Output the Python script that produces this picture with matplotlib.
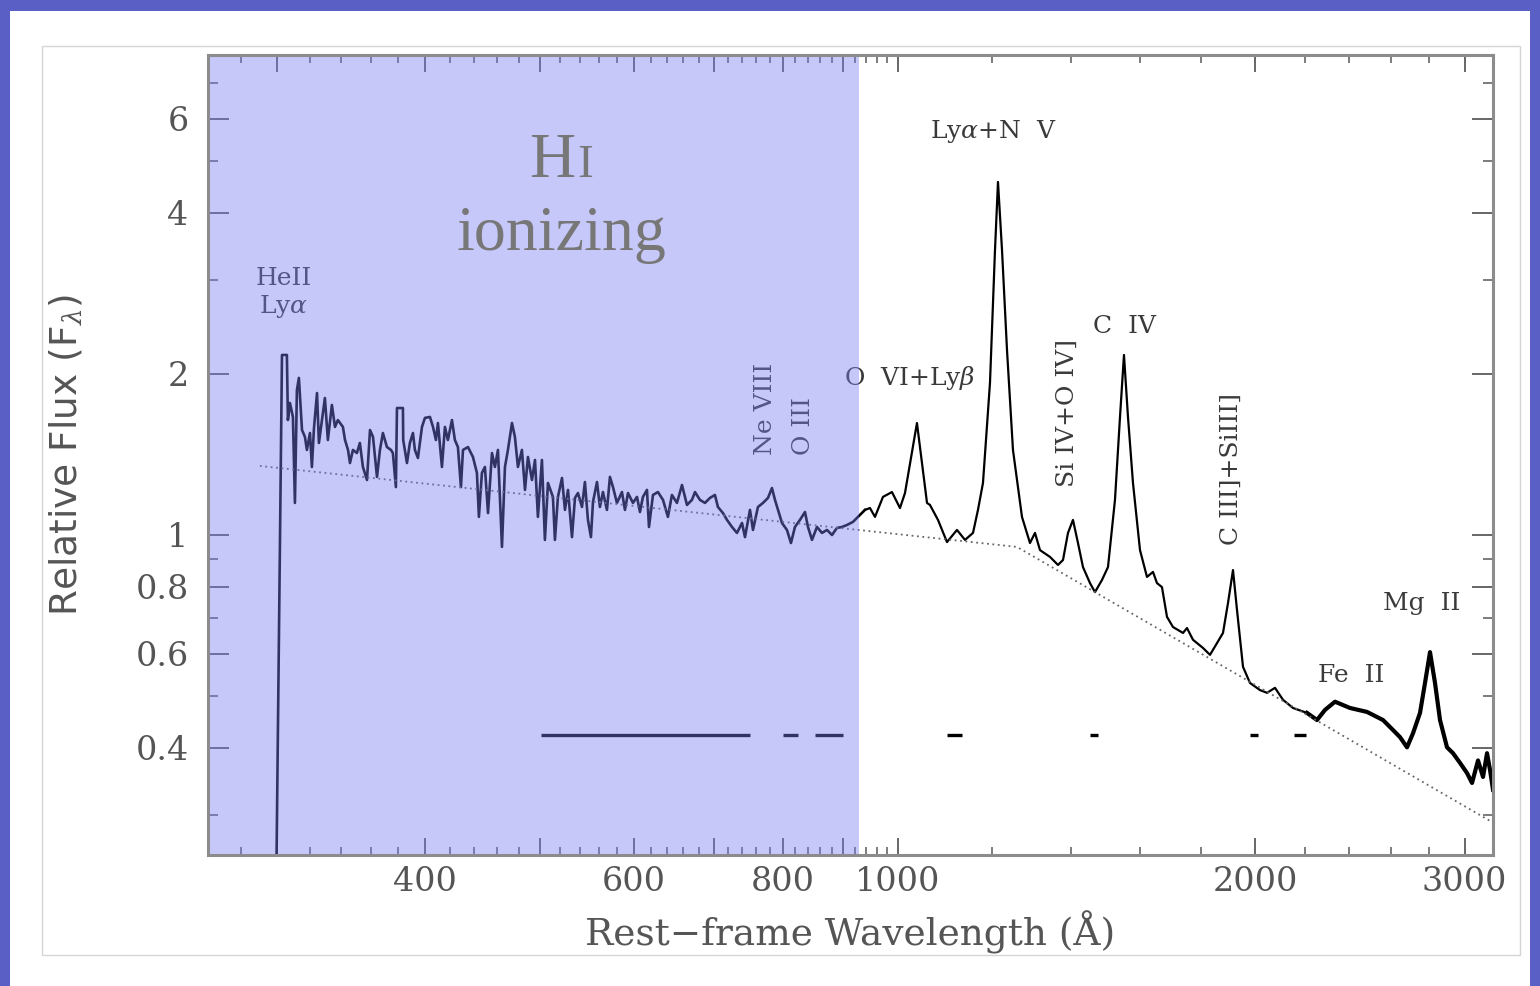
import matplotlib
matplotlib.use("Agg")
import matplotlib.pyplot as plt
from matplotlib.patches import Rectangle
from matplotlib.ticker import FixedLocator, FixedFormatter, NullFormatter

plt.rcParams['mathtext.fontset'] = 'dejavuserif'

# ---------------- data ----------------
# rest-frame wavelength (Angstrom) and relative flux, in segments
wave_heii = [299.7, 302.6, 303.2, 306.1, 306.7, 307.9, 309.7, 310.9, 312.1, 313.3,
             315.2, 317.0, 318.2, 320.1, 321.3, 322.6, 324.5, 325.7, 327.6, 329.5,
             331.4, 334.0, 336.0, 337.9, 341.2, 342.6, 344.6, 345.9, 347.9, 350.6,
             352.6, 354.7, 357.5, 359.6, 361.7, 364.5, 366.6, 368.7, 371.6, 374.5,
             375.9, 378.1, 378.9, 383.3, 383.5, 386.3, 388.5, 390.8, 392.3, 394.6,
             397.7, 400.0]
flux_heii = [0.20, 1.460, 2.170, 2.170, 1.640, 1.765, 1.662, 1.148, 1.866, 1.966,
             1.571, 1.525, 1.442, 1.551, 1.340, 1.585, 1.842, 1.486, 1.640, 1.803,
             1.505, 1.750, 1.592, 1.640, 1.592, 1.505, 1.442, 1.363, 1.442, 1.423,
             1.486, 1.340, 1.267, 1.571, 1.525, 1.284, 1.442, 1.551, 1.460, 1.442,
             1.423, 1.229, 1.727, 1.727, 1.505, 1.363, 1.486, 1.551, 1.442, 1.393,
             1.592, 1.655]

wave_euv1 = [403.9, 406.3, 408.6, 410.2, 413.4, 415.8, 418.2, 421.5, 423.9, 426.4,
             428.9, 430.6, 434.8, 439.0, 442.4, 444.1, 446.7, 449.3, 452.0, 455.5,
             458.1, 460.8, 464.4, 467.1, 469.8, 473.5, 476.2, 479.0, 482.7, 485.6,
             488.4, 492.2, 495.1, 497.9, 501.8, 504.7, 507.7, 512.6, 514.6, 517.6,
             521.7, 524.7, 527.8, 531.9, 535.0, 538.1, 542.3, 545.4, 548.6, 551.8,
             554.0, 558.3, 561.5, 564.8, 569.2, 572.5, 575.9, 580.3, 586.0, 589.4,
             592.9, 598.6]
flux_euv1 = [1.662, 1.592, 1.505, 1.619, 1.340, 1.592, 1.505, 1.640, 1.505, 1.460,
             1.229, 1.442, 1.460, 1.399, 1.306, 1.081, 1.306, 1.340, 1.099, 1.423,
             1.340, 1.442, 0.950, 1.340, 1.442, 1.619, 1.525, 1.340, 1.442, 1.214,
             1.399, 1.267, 1.381, 1.081, 1.381, 0.979, 1.251, 1.178, 0.979, 1.178,
             1.278, 1.114, 1.214, 0.991, 1.173, 1.198, 1.128, 1.256, 1.067, 0.991,
             1.153, 1.256, 1.128, 1.203, 1.114, 1.284, 1.229, 1.148, 1.203, 1.114,
             1.198, 1.148]

wave_euv2 = [603.3, 606.8, 610.3, 615.1, 617.5, 622.3, 628.3, 634.5, 640.6, 645.6,
             651.9, 658.3, 664.7, 671.1, 675.1, 681.6, 688.3, 695.0, 701.7, 705.8,
             712.7, 718.3, 725.3, 732.3, 739.5, 743.8, 751.0, 755.4, 762.7, 770.2,
             777.7, 783.7, 788.3, 792.9, 799.1, 806.8, 813.1, 819.4, 827.4, 835.5,
             840.4, 846.9, 855.1, 863.5, 871.9, 880.4, 888.9, 897.6, 906.3, 916.9,
             925.9, 938.5]
flux_euv2 = [1.178, 1.104, 1.178, 1.214, 1.035, 1.188, 1.203, 1.163, 1.081, 1.188,
             1.148, 1.240, 1.138, 1.163, 1.203, 1.163, 1.148, 1.173, 1.188, 1.128,
             1.099, 1.067, 1.035, 1.009, 1.053, 0.991, 1.114, 1.022, 1.128, 1.148,
             1.173, 1.224, 1.163, 1.114, 1.053, 1.022, 0.966, 1.035, 1.067, 1.104,
             1.035, 0.979, 1.035, 1.009, 1.022, 1.000, 1.031, 1.035, 1.044, 1.058,
             1.081, 1.114]

wave_fuv = [947.7, 956.9, 971.8, 988.9, 1004.4, 1014.2, 1038.0, 1058.4, 1064.5, 1081.2,
            1100.2, 1121.7, 1139.3, 1157.1, 1168.3, 1179.7, 1195.8, 1207.5, 1214.5, 1224.0,
            1235.9, 1250.3, 1272.3, 1292.2, 1304.8, 1317.5, 1343.3, 1364.3, 1377.6, 1391.0,
            1404.5, 1418.2, 1432.0, 1451.6, 1465.7, 1485.7, 1503.1, 1523.6, 1538.5, 1550.4,
            1562.5, 1577.7, 1599.3, 1621.1, 1640.1, 1652.8, 1668.9]
flux_fuv = [1.123, 1.081, 1.178, 1.203, 1.123, 1.198, 1.619, 1.148, 1.138, 1.067,
            0.970, 1.022, 0.979, 1.009, 1.114, 1.251, 1.924, 3.410, 4.569, 3.410,
            2.217, 1.442, 1.081, 0.966, 1.009, 0.937, 0.910, 0.879, 0.898, 1.009,
            1.067, 0.966, 0.871, 0.813, 0.782, 0.824, 0.871, 1.163, 1.662, 2.170,
            1.662, 1.251, 0.937, 0.835, 0.853, 0.813, 0.799]

wave_nuv = [1685.2, 1704.9, 1738.3, 1751.8, 1772.3, 1807.0, 1831.7, 1856.7, 1878.4, 1896.7,
            1915.2, 1930.1, 1952.7, 1979.3, 2018.1, 2045.6, 2077.6, 2110.1, 2151.4, 2210.6]
flux_nuv = [0.703, 0.673, 0.656, 0.670, 0.637, 0.615, 0.597, 0.628, 0.656, 0.746,
            0.860, 0.724, 0.567, 0.529, 0.513, 0.507, 0.518, 0.492, 0.475, 0.465]

# noisy red end (drawn as a thicker band in the reference)
wave_red = [2210.6, 2253.8, 2289.0, 2333.8, 2402.7, 2483.2, 2561.4, 2611.5, 2647.2, 2683.4,
            2714.7, 2751.8, 2778.6, 2805.7, 2833.0, 2860.6, 2899.7, 2933.6, 2973.7, 3014.3,
            3043.7, 3079.3, 3109.3, 3133.5, 3151.7, 3170.1]
flux_red = [0.465, 0.451, 0.471, 0.488, 0.475, 0.467, 0.451, 0.432, 0.419, 0.401,
            0.426, 0.465, 0.529, 0.604, 0.529, 0.451, 0.401, 0.391, 0.375, 0.359,
            0.344, 0.379, 0.353, 0.391, 0.364, 0.334]

# broken power-law continuum (dotted)
cont_wave = [290.5, 1260.0, 3170.0]
cont_flux = [1.346, 0.950, 0.290]

# continuum windows (short bars near the bottom)
window_start = [501, 800, 852, 1100, 1451, 1980, 2156]
window_end = [751, 824, 899, 1133, 1474, 2010, 2206]
window_flux = 0.423

# ionizing edge of the shaded region
ionizing_edge = 927.0

# axis ticks
x_major = [300, 400, 500, 600, 700, 800, 900, 1000, 2000, 3000]
x_major_labels = ['', '400', '', '600', '', '800', '', '1000', '2000', '3000']
y_major = [0.4, 0.6, 0.8, 1, 2, 4, 6]
y_major_labels = ['0.4', '0.6', '0.8', '1', '2', '4', '6']
y_minor = [0.3, 0.5, 0.7, 0.9, 3, 5, 7]

# emission-line labels: text, wavelength, flux
line_labels = ['Ly$\\alpha$+N  V', 'O  VI+Ly$\\beta$', 'C  IV', 'Fe  II', 'Mg  II']
line_label_wave = [1204, 1024, 1552, 2407, 2762]
line_label_flux = [5.666, 1.966, 2.448, 0.547, 0.746]

vert_labels = ['Ne VIII', 'O III', 'Si IV+O IV]', 'C III]+SiIII]']
vert_label_wave = [774.6, 833.8, 1388.2, 1907.7]
vert_label_flux = [1.411, 1.411, 1.229, 0.958]

# ---------------- figure ----------------
W, H = 1540, 986
fig = plt.figure(figsize=(W / 100, H / 100), dpi=100)
fig.patch.set_facecolor('#5a5fc6')
fig.add_artist(Rectangle((10 / W, 0), (1530 - 10) / W, (H - 11) / H,
                         transform=fig.transFigure, facecolor='white',
                         edgecolor='none', zorder=0))
fig.add_artist(Rectangle((42 / W, (H - 955) / H), (1520 - 42) / W, (955 - 46) / H,
                         transform=fig.transFigure, facecolor='none',
                         edgecolor='#d5d5d5', lw=1.0, zorder=0.5))

ax = fig.add_axes([208 / W, (H - 855) / H, (1493 - 208) / W, (855 - 55) / H])
ax.set_xscale('log')
ax.set_yscale('log')
ax.set_xlim(262.7, 3170)
ax.set_ylim(0.2523, 7.89)
ax.set_facecolor('white')

wave_blue = wave_heii + wave_euv1 + wave_euv2
flux_blue = flux_heii + flux_euv1 + flux_euv2
ax.plot(wave_blue, flux_blue, color='black', lw=1.9, zorder=2)
ax.plot([wave_blue[-1]] + wave_fuv + wave_nuv, [flux_blue[-1]] + flux_fuv + flux_nuv,
        color='black', lw=1.6, zorder=2)
ax.plot(wave_red, flux_red, color='black', lw=3.0, zorder=2, solid_joinstyle='round')
ax.plot(cont_wave, cont_flux, color='#666666', lw=1.3,
        linestyle=(0, (1.0, 2.0)), zorder=2)
ax.hlines([window_flux] * len(window_start), window_start, window_end,
          colors='black', lw=2.4, zorder=2)

# labels
lab_font = dict(family='DejaVu Serif', color='#3a3a3a', fontsize=18, zorder=3)
for t, xw, yf in zip(line_labels, line_label_wave, line_label_flux):
    ax.text(xw, yf, t, ha='center', va='center', **lab_font)
for t, xw, yf in zip(vert_labels, vert_label_wave, vert_label_flux):
    ax.text(xw, yf, t, ha='center', va='bottom', rotation=90, **lab_font)
ax.text(304.4, 2.821, 'HeII\nLy$\\alpha$', ha='center', va='center',
        linespacing=1.15, **lab_font)

# translucent ionizing-region overlay
ax.axvspan(262.7, ionizing_edge, color='#777cf5', alpha=0.42, lw=0, zorder=4)

# HI ionizing text
ax.text((529 - 208) / 1285, (855 - 177) / 800, 'H', transform=ax.transAxes,
        family='Liberation Serif', fontsize=46, color='#777777', ha='left',
        va='baseline', zorder=6)
ax.text((577 - 208) / 1285, (855 - 177) / 800, 'I', transform=ax.transAxes,
        family='Liberation Serif', fontsize=34, color='#777777', ha='left',
        va='baseline', zorder=6)
ax.text((562 - 208) / 1285, (855 - 250) / 800, 'ionizing', transform=ax.transAxes,
        family='Liberation Serif', fontsize=46, color='#777777', ha='center',
        va='baseline', zorder=6)

# ticks
x_minor = [280] + [v for h in range(300, 1000, 100) for v in range(h + 20, h + 100, 20)]
x_minor += [v for v in range(1200, 3000, 200) if v != 2000]
ax.xaxis.set_major_locator(FixedLocator(x_major))
ax.xaxis.set_major_formatter(FixedFormatter(x_major_labels))
ax.xaxis.set_minor_locator(FixedLocator(x_minor))
ax.xaxis.set_minor_formatter(NullFormatter())
ax.yaxis.set_major_locator(FixedLocator(y_major))
ax.yaxis.set_major_formatter(FixedFormatter(y_major_labels))
ax.yaxis.set_minor_locator(FixedLocator(y_minor))
ax.yaxis.set_minor_formatter(NullFormatter())

tick_col = '#666666'
ax.tick_params(axis='x', which='major', direction='in', length=12, width=1.4,
               color=tick_col, top=True, bottom=True, pad=8, labelsize=24,
               labelcolor='#555555')
ax.tick_params(axis='x', which='minor', direction='in', length=6, width=1.2,
               color=tick_col, top=True, bottom=True)
ax.tick_params(axis='y', which='major', direction='in', length=15, width=1.4,
               color=tick_col, left=True, right=True, pad=14, labelsize=24,
               labelcolor='#555555')
ax.tick_params(axis='y', which='minor', direction='in', length=7, width=1.2,
               color=tick_col, left=True, right=True)
for lab in ax.get_xticklabels() + ax.get_yticklabels():
    lab.set_family('DejaVu Serif')

for sp in ax.spines.values():
    sp.set_color('#8c8c8c')
    sp.set_linewidth(2.2)
    sp.set_zorder(7)

ax.set_xlabel('Rest\u2212frame Wavelength (\u00c5)', family='DejaVu Serif',
              fontsize=27, color='#555555', labelpad=9)
ax.set_ylabel('Relative Flux (F$_{\\lambda}$)', family='DejaVu Sans',
              fontsize=27, color='#555555', labelpad=36)

fig.savefig('out.png', dpi=100, facecolor=fig.get_facecolor())
